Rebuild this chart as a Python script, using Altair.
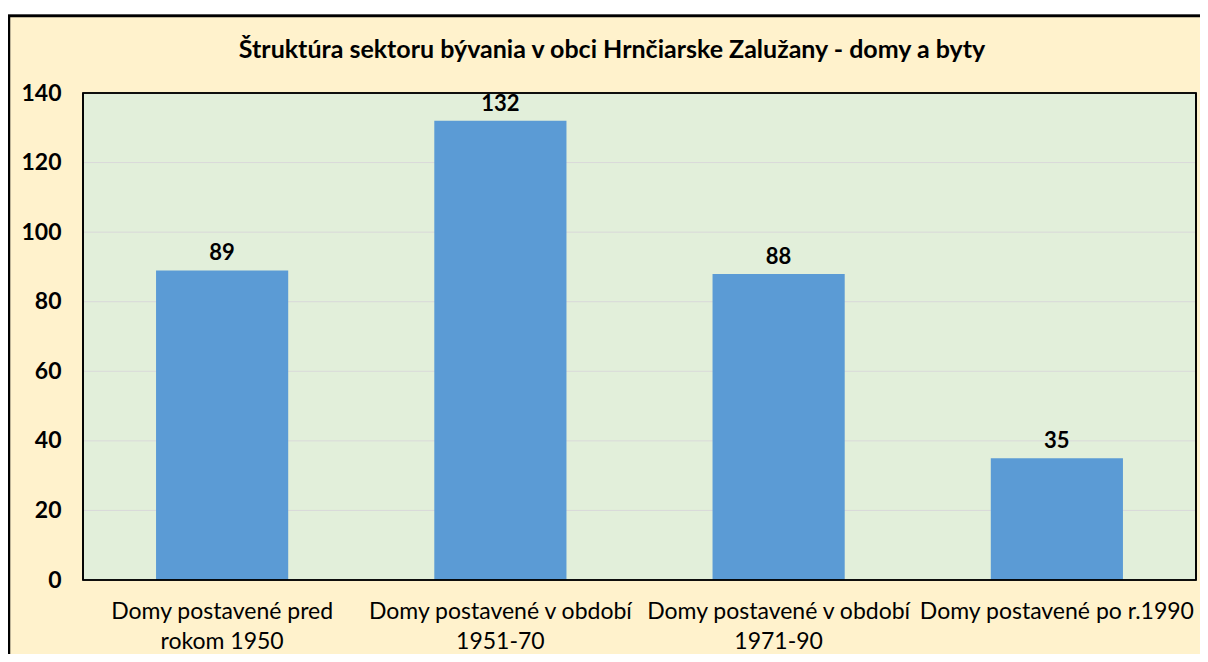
import altair as alt
import pandas as pd

categories = [
    "Domy postavené pred\nrokom 1950",
    "Domy postavené v období\n1951-70",
    "Domy postavené v období\n1971-90",
    "Domy postavené po r.1990",
]
values = [89, 132, 88, 35]
y_ticks = [0, 20, 40, 60, 80, 100, 120, 140]
title = "Štruktúra sektoru bývania v obci Hrnčiarske Zalužany - domy a byty"

df = pd.DataFrame({"cat": categories, "val": values})
grid_df = pd.DataFrame({"t": y_ticks[1:-1]})
title_df = pd.DataFrame({"title": [title]})

W, H = 1113, 487
PL, PT, PR, PB = 75, 85, 4, 74
FONT = "Lato"

yscale = alt.Scale(domain=[0, 140], nice=False)

frame = alt.Chart(df).mark_rect(
    fill="#FFF2CC", stroke="black", strokeWidth=2.5, clip=False
).encode(
    x=alt.value(-PL + 1), y=alt.value(-PT + 8),
    x2=alt.value(W + PR + 10), y2=alt.value(H + PB + 10),
)

plotbg = alt.Chart(df).mark_rect(fill="#E2EFDA").encode(
    x=alt.value(0), y=alt.value(0), x2=alt.value(W), y2=alt.value(H)
)

grid = alt.Chart(grid_df).mark_rule(color="#D9D9D9", strokeWidth=1).encode(
    y=alt.Y("t:Q", scale=yscale, title=None), x=alt.value(0), x2=alt.value(W)
)

title_mark = alt.Chart(title_df).mark_text(
    font=FONT, fontSize=25, fontWeight="bold", color="black",
    align="center", baseline="middle", clip=False
).encode(text="title:N", x=alt.value(529), y=alt.value(-43))

base = alt.Chart(df).encode(
    x=alt.X("cat:N", sort=categories, title=None,
            scale=alt.Scale(paddingInner=0.525, paddingOuter=0.2625),
            axis=alt.Axis(labelExpr="split(datum.label, '\\n')", labelAngle=0,
                          labelFont=FONT, labelFontSize=23, labelColor="black",
                          labelPadding=20, labelLineHeight=30, ticks=False,
                          domain=False, labelLimit=400, zindex=1)),
    y=alt.Y("val:Q", title=None, scale=yscale,
            axis=alt.Axis(values=y_ticks, labelFont=FONT, labelFontSize=23,
                          labelFontWeight="bold", labelColor="black",
                          labelPadding=22, ticks=False, domain=False,
                          grid=False, zindex=1)),
)

bars = base.mark_bar(color="#5B9BD5")
labels = base.mark_text(dy=-17, font=FONT, fontSize=22, fontWeight="bold",
                        color="black").encode(text="val:Q")

border = alt.Chart(df).mark_rect(fill=None, stroke="black", strokeWidth=1.2).encode(
    x=alt.value(0), y=alt.value(0), x2=alt.value(W), y2=alt.value(H)
)

chart = alt.layer(frame, plotbg, grid, bars, labels, border, title_mark).properties(
    width=W, height=H,
    autosize=alt.AutoSizeParams(type="none"),
    padding={"left": PL, "top": PT, "right": PR, "bottom": PB},
    background="white",
).configure_view(stroke=None)

chart.save("out.html", embed_options={"renderer": "svg", "actions": False})
